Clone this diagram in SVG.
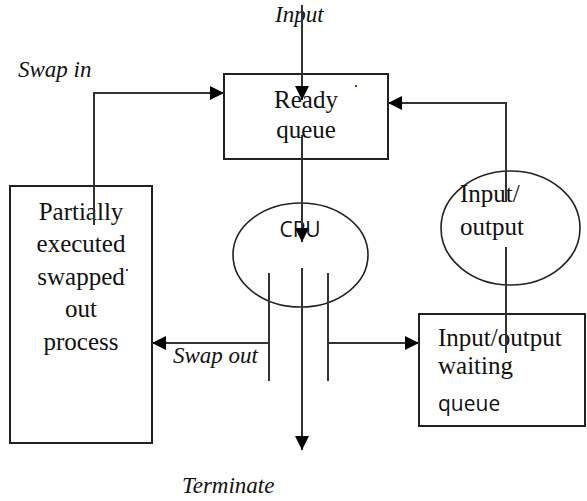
<svg xmlns="http://www.w3.org/2000/svg" width="587" height="501" viewBox="0 0 587 501">
<style>
.box{fill:none;stroke:#222;stroke-width:2}
.ell{fill:none;stroke:#222;stroke-width:1.6}
.ln{fill:none;stroke:#333;stroke-width:2}
.t{font-family:'Liberation Serif','Times New Roman',Times,'DejaVu Serif',serif;font-size:25px;fill:#111}
.s{font-family:'Open Sans',sans-serif;font-size:21px;fill:#111}
.i{font-family:'Liberation Serif','Times New Roman',Times,'DejaVu Serif',serif;font-style:italic;font-size:23px;fill:#111}
</style>
<defs>
<marker id="ah" viewBox="0 0 10 10" refX="10" refY="5" markerWidth="14" markerHeight="14" markerUnits="userSpaceOnUse" orient="auto">
<path d="M0,0 L10,5 L0,10 Z" fill="#000"/>
</marker>
</defs>
<rect width="587" height="501" fill="#fff"/>
<g id="ready">
<rect class="box" x="224" y="74" width="164" height="85"/>
<text class="t" x="306" y="108" text-anchor="middle">Ready</text>
<text class="t" x="306" y="138" text-anchor="middle">queue</text>
</g>
<g id="partial">
<rect class="box" x="10" y="186" width="142" height="257"/>
<text class="t" x="81" y="220" text-anchor="middle">Partially</text>
<text class="t" x="81" y="252" text-anchor="middle">executed</text>
<text class="t" x="81" y="285" text-anchor="middle">swapped</text>
<text class="t" x="81" y="317" text-anchor="middle">out</text>
<text class="t" x="81" y="350" text-anchor="middle">process</text>
</g>
<g id="cpu">
<ellipse class="ell" cx="300.5" cy="255" rx="67.5" ry="52"/>
<text class="s" x="300" y="237" text-anchor="middle">CPU</text>
</g>
<g id="io">
<ellipse class="ell" cx="510.5" cy="228" rx="69.5" ry="57"/>
<text class="t" x="460" y="202">Input/</text>
<text class="t" x="460" y="235">output</text>
</g>
<g id="iowait">
<rect class="box" x="419" y="314" width="166" height="112"/>
<text class="t" x="438" y="346">Input/output</text>
<text class="t" x="438" y="374">waiting</text>
<text class="s" x="438" y="411">queue</text>
</g>
<g id="labels">
<text class="i" x="275" y="22">Input</text>
<text class="i" x="18" y="77">Swap in</text>
<text class="i" x="173" y="363">Swap out</text>
<text class="i" x="182" y="493">Terminate</text>
</g>
<g id="dots" fill="#3333ff">
<rect x="355" y="85" width="2" height="2"/>
<rect x="126" y="269" width="2" height="2"/>
</g>
<g id="connectors">
<line class="ln" x1="302" y1="5" x2="302" y2="100" marker-end="url(#ah)"/>
<polyline class="ln" points="94,225 94,93 224,93" marker-end="url(#ah)"/>
<polyline class="ln" points="506,202 506,103 388,103" marker-end="url(#ah)"/>
<line class="ln" x1="302" y1="135" x2="302" y2="242" marker-end="url(#ah)"/>
<line class="ln" x1="269" y1="273" x2="269" y2="381"/>
<line class="ln" x1="328" y1="273" x2="328" y2="381"/>
<line class="ln" x1="302" y1="268" x2="302" y2="450" marker-end="url(#ah)"/>
<line class="ln" x1="269" y1="343" x2="152" y2="343" marker-end="url(#ah)"/>
<line class="ln" x1="328" y1="343" x2="419" y2="343" marker-end="url(#ah)"/>
<line class="ln" x1="506" y1="247" x2="506" y2="353"/>
</g>
</svg>
